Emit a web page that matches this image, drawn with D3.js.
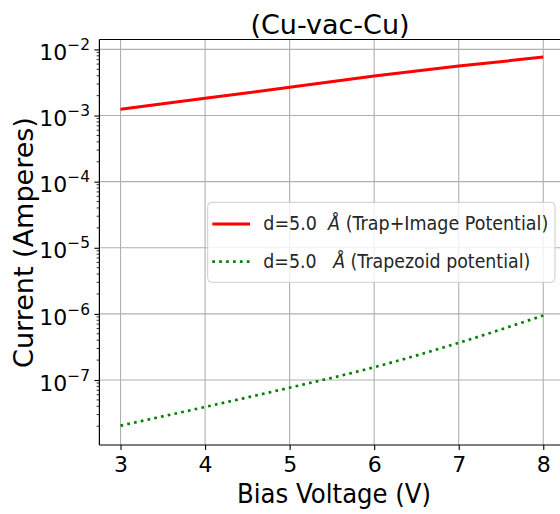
<!DOCTYPE html>
<html><head><meta charset="utf-8">
<script src="https://cdn.jsdelivr.net/npm/d3@7"></script>
<style>body{margin:0;background:#fff}text{font-family:"DejaVu Sans",sans-serif}</style>
</head><body><svg id="c" width="560" height="514"></svg>
<script>
const voltages = [3, 4, 5, 6, 7, 8];
const trapImage = [1.24e-3, 1.82e-3, 2.67e-3, 3.95e-3, 5.6e-3, 7.65e-3];
const trapezoid = [2.04e-8, 3.91e-8, 7.65e-8, 1.56e-7, 3.65e-7, 9.45e-7];
const xTicks = [3, 4, 5, 6, 7, 8];
const yTickExp = [-2, -3, -4, -5, -6, -7];
const title = "(Cu-vac-Cu)";
const xLabel = "Bias Voltage (V)";
const yLabel = "Current (Amperes)";
const legendItems = [
  {pre: "d=5.0  ", post: " (Trap+Image Potential)", color: "#ff0000", dash: null, len: 285},
  {pre: "d=5.0   ", post: " (Trapezoid potential)", color: "#008000", dash: "2.7,4.2", len: 267}
];

const svg = d3.select("#c");
svg.append("rect").attr("width",560).attr("height",514).attr("fill","#fff");
const L = 99.4, R = 564.4, T = 39.5, B = 445;
const x = d3.scaleLinear().domain([2.75, 8.25]).range([L, R]);
const y = d3.scaleLog().domain([Math.pow(10,-7.983), Math.pow(10,-1.850)]).range([B, T]);

const plot = svg.append("g");
// grid
plot.selectAll(".gx").data(xTicks).join("line")
  .attr("x1", d=>x(d)).attr("x2", d=>x(d)).attr("y1", T).attr("y2", B)
  .attr("stroke","#b0b0b0").attr("stroke-width",1.1);
plot.selectAll(".gy").data(yTickExp).join("line")
  .attr("x1", L).attr("x2", R).attr("y1", d=>y(Math.pow(10,d))).attr("y2", d=>y(Math.pow(10,d)))
  .attr("stroke","#b0b0b0").attr("stroke-width",1.1);

// lines
const lineGen = d3.line().x(d=>x(d[0])).y(d=>y(d[1]));
plot.append("path").datum(voltages.map((v,i)=>[v,trapImage[i]]))
  .attr("d", lineGen).attr("fill","none").attr("stroke","#ff0000").attr("stroke-width",3);
plot.append("path").datum(voltages.map((v,i)=>[v,trapezoid[i]]))
  .attr("d", lineGen.curve(d3.curveMonotoneX)).attr("fill","none").attr("stroke","#008000")
  .attr("stroke-width",2.7).attr("stroke-dasharray","2.7,4.2");

// axes ticks
const xAxis = d3.axisBottom(x).tickValues(xTicks).tickSize(5).tickPadding(4).tickFormat(d3.format("d"));
const gx = svg.append("g").attr("transform",`translate(0,${B})`).call(xAxis);
gx.select(".domain").remove();
gx.selectAll(".tick line").attr("stroke","#000").attr("stroke-width",1.1);
gx.selectAll(".tick text").attr("font-size",22).attr("fill","#000").attr("dy",null).attr("y",27.3)
  .style("font-family","DejaVu Sans");

// y minor ticks
const minor = [];
for (let e=-8; e<=-2; e++) for (let m=2; m<=9; m++) { const v=m*Math.pow(10,e); if (y(v)<=B && y(v)>=T) minor.push(v); }
svg.selectAll(".ymin").data(minor).join("line")
  .attr("x1", L-2.8).attr("x2", L).attr("y1", d=>y(d)).attr("y2", d=>y(d))
  .attr("stroke","#000").attr("stroke-width",0.8);
const yAxis = d3.axisLeft(y).tickValues(yTickExp.map(e=>Math.pow(10,e))).tickSize(5).tickFormat("");
const gy = svg.append("g").attr("transform",`translate(${L},0)`).call(yAxis);
gy.select(".domain").remove();
gy.selectAll(".tick line").attr("stroke","#000").attr("stroke-width",1.1);
// y tick labels
const yl = svg.selectAll(".ylab").data(yTickExp).join("text")
  .attr("x", 90).attr("y", d=>y(Math.pow(10,d))+10.7).attr("text-anchor","end").attr("font-size",22).attr("fill","#000");
yl.append("tspan").text("10");
yl.append("tspan").attr("dy",-10).attr("font-size",15.4).text(d=>"\u2212"+Math.abs(d));

// spines
svg.append("line").attr("x1",L).attr("x2",L).attr("y1",T).attr("y2",B).attr("stroke","#000").attr("stroke-width",1.2);
svg.append("line").attr("x1",L).attr("x2",R).attr("y1",B).attr("y2",B).attr("stroke","#000").attr("stroke-width",1.2);
svg.append("line").attr("x1",L).attr("x2",R).attr("y1",T).attr("y2",T).attr("stroke","#000").attr("stroke-width",1.2);
svg.append("line").attr("x1",R).attr("x2",R).attr("y1",T).attr("y2",B).attr("stroke","#000").attr("stroke-width",1.2);

// legend
const lg = svg.append("g");
lg.append("rect").attr("x",207.7).attr("y",202.3).attr("width",347.3).attr("height",80).attr("rx",4)
  .attr("fill","#fff").attr("fill-opacity",0.8).attr("stroke","#cccccc").attr("stroke-width",1);
legendItems.forEach((it,i)=>{
  const cy = 224 + i*37.7;
  const ln = lg.append("line").attr("x1",212.3).attr("x2",250).attr("y1",cy).attr("y2",cy)
    .attr("stroke",it.color).attr("stroke-width", it.dash?2.7:3);
  if (it.dash) ln.attr("stroke-dasharray",it.dash);
  const t = lg.append("text").attr("x",263.3).attr("y",cy+6.3).attr("font-size",19.5).attr("fill","#262626")
    .attr("textLength",it.len).attr("lengthAdjust","spacingAndGlyphs").style("white-space","pre");
  t.append("tspan").text(it.pre);
  t.append("tspan").attr("font-style","italic").text("\u00C5");
  t.append("tspan").text(it.post);
});

// labels
svg.append("text").attr("x",330).attr("y",33.5).attr("text-anchor","middle").attr("font-size",27).attr("fill","#000").text(title);
svg.append("text").attr("x",237.1).attr("y",503).attr("font-size",27).attr("fill","#000")
  .attr("textLength",194).attr("lengthAdjust","spacingAndGlyphs").text(xLabel);
svg.append("text").attr("transform","translate(32.5,242.5) rotate(-90)").attr("text-anchor","middle")
  .attr("font-size",27).attr("fill","#000").text(yLabel);
</script></body></html>
